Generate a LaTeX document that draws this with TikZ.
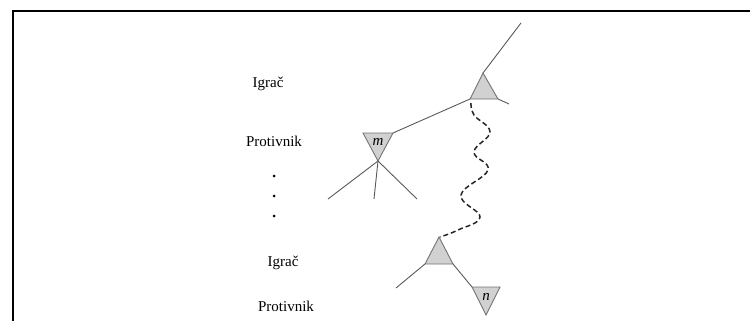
\documentclass[tikz,border=0pt]{standalone}
\usepackage{fontspec}
\setmainfont{Liberation Serif}
\begin{document}
\begin{tikzpicture}[x=1pt,y=-1pt,
  tri/.style={fill=black!18,draw=black!55,line width=0.9pt,line join=miter},
  edge/.style={draw=black!65,line width=0.9pt},
  lbl/.style={font=\fontsize{15}{17}\selectfont,inner sep=0pt},
  wave/.style={draw=black!85,line width=1.5pt,dash pattern=on 5pt off 3pt},
  frame/.style={draw=black,line width=2pt}]
\useasboundingbox (0,0) rectangle (750,321);
\draw[frame] (13,330) -- (13,11.5) -- (760,11.5);
% top (max) triangle
\coordinate (A) at (483,73);
\coordinate (AL) at (470,99);
\coordinate (AR) at (498,99);
\coordinate (Atop) at (521,23);
\coordinate (Ar) at (509,104);
% m triangle
\coordinate (ML) at (363,133);
\coordinate (MR) at (393,133);
\coordinate (M) at (378,161);
\coordinate (M1) at (328,199);
\coordinate (M2) at (374,199);
\coordinate (M3) at (417,199);
% bottom (max) triangle
\coordinate (B) at (439,237);
\coordinate (BL) at (425,264);
\coordinate (BR) at (453,264);
\coordinate (Bl) at (396,288);
% n triangle
\coordinate (NL) at (472,287);
\coordinate (NR) at (500,287);
\coordinate (N) at (486,315);
% edges
\draw[edge] (A) -- (Atop);
\draw[edge] (AR) -- (Ar);
\draw[edge] (AL) -- (MR);
\draw[edge] (M) -- (M1);
\draw[edge] (M) -- (M2);
\draw[edge] (M) -- (M3);
\draw[edge] (BL) -- (Bl);
\draw[edge] (BR) -- (NL);
% triangles
\draw[tri] (A) -- (AL) -- (AR) -- cycle;
\draw[tri] (ML) -- (MR) -- (M) -- cycle;
\draw[tri] (B) -- (BL) -- (BR) -- cycle;
\draw[tri] (NL) -- (NR) -- (N) -- cycle;
\node[lbl] (m) at (378,142) {\textit{m}};
\node[lbl] (n) at (486,297) {\textit{n}};
% wavy dashed line
\draw[wave] plot[smooth,tension=0.7] coordinates {(471,103) (474,115) (490,132) (474,152) (488,170) (461,195) (480,217) (458,230) (440,237)};
% labels
\node[lbl] (ig1) at (268,84) {Igrač};
\node[lbl] (pr1) at (274,141) {Protivnik};
\node[lbl] (ig2) at (283,263) {Igrač};
\node[lbl] (pr2) at (286,306) {Protivnik};
\fill (274,176) circle (1.5);
\fill (274,196) circle (1.5);
\fill (274,216) circle (1.5);
\end{tikzpicture}
\end{document}
